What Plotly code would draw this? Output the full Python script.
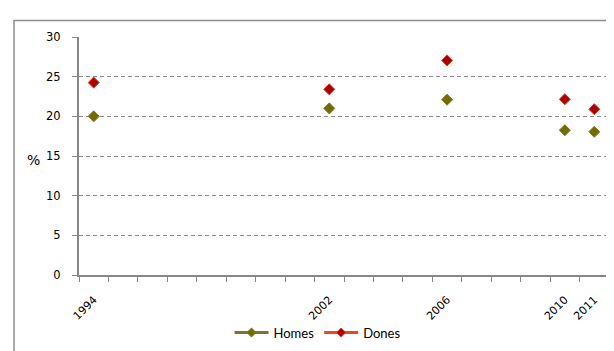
import plotly.graph_objects as go

years = [1994, 2002, 2006, 2010, 2011]
homes = [20.0, 21.0, 22.1, 18.25, 18.05]
dones = [24.25, 23.4, 27.05, 22.15, 20.9]
y_ticks = [0, 5, 10, 15, 20, 25, 30]

fig = go.Figure()

fig.add_trace(go.Scatter(
    x=years, y=homes, mode="markers", name="Homes", showlegend=False,
    marker=dict(symbol="diamond", size=8.5, color="#6f6c00",
                line=dict(color="#8a7a2a", width=1)),
))
fig.add_trace(go.Scatter(
    x=years, y=dones, mode="markers", name="Dones", showlegend=False,
    marker=dict(symbol="diamond", size=8.5, color="#a80000",
                line=dict(color="#e8401a", width=1)),
))
# legend entries (line + marker swatch)
fig.add_trace(go.Scatter(
    x=[None], y=[None], mode="lines+markers", name="Homes",
    line=dict(color="#847030", width=3),
    marker=dict(symbol="diamond", size=7, color="#6f6c00",
                line=dict(color="#8a7a2a", width=1)),
))
fig.add_trace(go.Scatter(
    x=[None], y=[None], mode="lines+markers", name="Dones",
    line=dict(color="#ea4a1e", width=3),
    marker=dict(symbol="diamond", size=7, color="#a80000",
                line=dict(color="#e8401a", width=1)),
))

fig.update_layout(
    width=614, height=351,
    margin=dict(l=71, r=13, t=29, b=75),
    paper_bgcolor="white", plot_bgcolor="white",
    showlegend=True,
    legend=dict(orientation="h", x=0.45, xanchor="center",
                y=-0.242, yanchor="middle",
                font=dict(family="Lato", size=13, color="#000000"),
                itemwidth=34, bgcolor="rgba(0,0,0,0)"),
    xaxis=dict(
        range=[1993.5, 2011.5], tickmode="array", tickvals=years,
        ticktext=[str(y) for y in years], tickangle=-45,
        ticks="", showgrid=False, zeroline=False,
        showline=True, linecolor="#868686", linewidth=2,
        tickfont=dict(family="DejaVu Sans", size=11, color="#000000"),
        ticklabelstandoff=12,
        minor=dict(tickmode="linear", tick0=1993.5, dtick=1,
                   ticks="outside", ticklen=5, tickcolor="#868686",
                   tickwidth=1, showgrid=False),
    ),
    yaxis=dict(
        range=[0, 30], tickmode="array", tickvals=y_ticks,
        ticks="outside", ticklen=5, tickcolor="#868686",
        showgrid=True, gridcolor="#8c8c8c", gridwidth=1, griddash="4px,3px",
        zeroline=False, showline=True, linecolor="#868686", linewidth=2,
        tickfont=dict(family="DejaVu Sans", size=11.5, color="#000000"),
        ticklabelstandoff=9,
    ),
    shapes=[dict(type="rect", xref="paper", yref="paper",
                 x0=-0.1226, x1=1.05, y0=-0.4, y1=1.069,
                 line=dict(color="#8c8c8c", width=1.5),
                 fillcolor="rgba(0,0,0,0)", layer="below")],
    annotations=[dict(text="%", xref="paper", yref="paper",
                      x=-0.07, y=0.485, xanchor="right", yanchor="middle",
                      showarrow=False,
                      font=dict(family="DejaVu Sans", size=14, color="#000000"))],
)

fig.write_html("out.html")
